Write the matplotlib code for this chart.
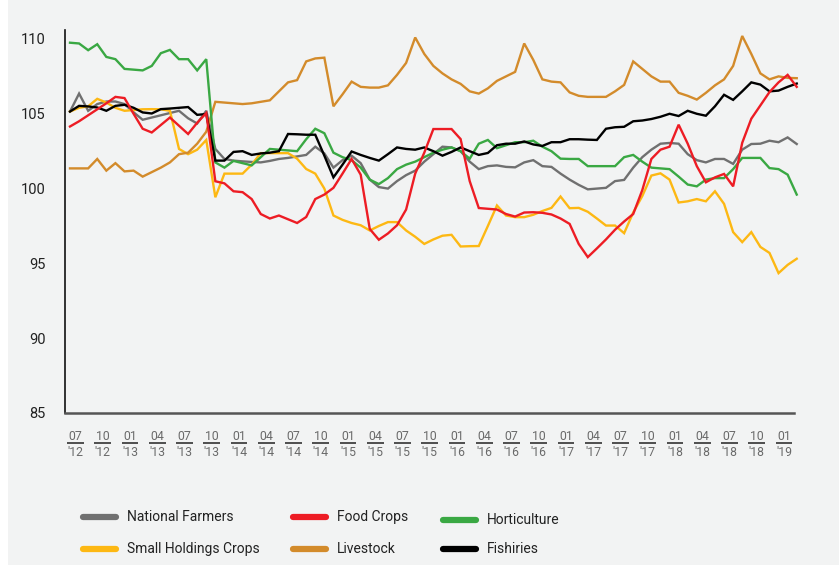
import numpy as np
import matplotlib
matplotlib.use('Agg')
import matplotlib.pyplot as plt
from matplotlib.lines import Line2D
from matplotlib.patches import Rectangle
import matplotlib.transforms as mtransforms

# Monthly index values, 07/2012 .. 03/2019
national_farmers = [105.15, 106.35, 105.2, 105.65, 105.82, 105.82, 105.65, 105.1, 104.6, 104.75,
                    104.9, 105.05, 105.2, 104.7, 104.35, 105.2, 102.65, 101.98, 101.87, 101.82,
                    101.78, 101.75, 101.85, 101.98, 102.05, 102.15, 102.25, 102.8, 102.35, 101.4,
                    101.9, 102.2, 101.7, 100.6, 100.1, 100.0, 100.5, 100.9, 101.2, 101.8,
                    102.3, 102.8, 102.75, 102.5, 101.8, 101.3, 101.5, 101.55, 101.45, 101.42,
                    101.75, 101.9, 101.5, 101.45, 101.0, 100.6, 100.25, 99.95, 100.0, 100.05,
                    100.5, 100.58, 101.4, 102.1, 102.6, 103.0, 103.05, 103.0, 102.3, 101.9,
                    101.75, 101.98, 101.98, 101.65, 102.6, 102.98, 103.0, 103.2, 103.1, 103.42,
                    102.98]
food_crops = [104.15, 104.5, 104.9, 105.3, 105.7, 106.13, 106.05, 105.0, 104.0, 103.75,
              104.25, 104.75, 104.2, 103.65, 104.4, 105.05, 100.49, 100.35, 99.82, 99.76,
              99.3, 98.3, 98.0, 98.2, 97.95, 97.7, 98.1, 99.3, 99.6, 100.05,
              101.0, 101.98, 100.93, 97.3, 96.58, 97.0, 97.55, 98.6, 101.0, 102.4,
              103.98, 103.98, 103.98, 103.31, 100.5, 98.7, 98.65, 98.6, 98.3, 98.13,
              98.4, 98.42, 98.38, 98.27, 98.0, 97.64, 96.3, 95.42, 96.0, 96.6,
              97.25, 97.8, 98.3, 99.9, 101.98, 102.6, 102.8, 104.27, 103.0, 101.5,
              100.42, 100.75, 100.98, 100.15, 103.06, 104.67, 105.56, 106.45, 107.1, 107.6,
              106.8]
horticulture = [109.75, 109.7, 109.25, 109.65, 108.8, 108.65, 108.0, 107.95, 107.9, 108.2,
                109.05, 109.27, 108.65, 108.65, 107.9, 108.65, 101.75, 101.4, 101.85, 101.7,
                101.55, 102.1, 102.65, 102.6, 102.55, 102.5, 103.3, 104.0, 103.7, 102.4,
                102.1, 101.9, 101.4, 100.6, 100.3, 100.7, 101.3, 101.6, 101.8, 102.1,
                102.4, 102.6, 102.75, 102.5, 102.0, 103.0, 103.25, 102.7, 102.9, 103.1,
                103.1, 103.2, 102.8, 102.5, 102.0, 101.98, 101.98, 101.5, 101.5, 101.5,
                101.5, 102.1, 102.25, 101.8, 101.4, 101.35, 101.3, 100.8, 100.27, 100.15,
                100.6, 100.7, 100.7, 101.3, 102.05, 102.05, 102.05, 101.37, 101.3, 100.93,
                99.6]
small_holdings = [105.15, 105.4, 105.5, 106.0, 105.75, 105.4, 105.2, 105.25, 105.3, 105.31,
                  105.3, 105.2, 102.65, 102.3, 102.6, 103.25, 99.42, 101.0, 101.0, 101.0,
                  101.6, 102.37, 102.37, 102.37, 102.37, 102.0, 101.31, 101.0, 100.0, 98.2,
                  97.91, 97.7, 97.55, 97.2, 97.5, 97.76, 97.76, 97.2, 96.78, 96.3,
                  96.6, 96.85, 96.91, 96.13, 96.15, 96.16, 97.5, 98.87, 98.2, 98.09,
                  98.09, 98.25, 98.5, 98.71, 99.47, 98.69, 98.71, 98.45, 98.0, 97.53,
                  97.53, 97.02, 98.4, 99.5, 100.87, 101.02, 100.6, 99.07, 99.15, 99.3,
                  99.15, 99.82, 98.98, 97.09, 96.42, 97.09, 96.1, 95.7, 94.35, 94.9,
                  95.31]
livestock = [101.35, 101.35, 101.35, 101.98, 101.2, 101.7, 101.15, 101.2, 100.8, 101.1,
             101.4, 101.75, 102.3, 102.4, 103.0, 103.8, 105.8, 105.75, 105.7, 105.65,
             105.7, 105.8, 105.9, 106.5, 107.1, 107.25, 108.5, 108.7, 108.75, 105.5,
             106.3, 107.15, 106.8, 106.75, 106.75, 106.9, 107.6, 108.4, 110.1, 109.0,
             108.2, 107.7, 107.3, 107.0, 106.5, 106.35, 106.7, 107.2, 107.5, 107.8,
             109.7, 108.6, 107.3, 107.15, 107.1, 106.43, 106.2, 106.13, 106.13, 106.13,
             106.5, 106.93, 108.5, 108.0, 107.5, 107.15, 107.15, 106.4, 106.2, 105.95,
             106.4, 106.9, 107.3, 108.2, 110.2, 109.0, 107.7, 107.3, 107.5, 107.4,
             107.38]
fishiries = [105.15, 105.53, 105.49, 105.42, 105.2, 105.53, 105.6, 105.4, 105.09, 105.02,
             105.31, 105.35, 105.4, 105.45, 104.93, 104.98, 101.87, 101.87, 102.45, 102.5,
             102.25, 102.35, 102.4, 102.5, 103.65, 103.63, 103.6, 103.6, 102.2, 100.75,
             101.6, 102.48, 102.25, 102.05, 101.87, 102.3, 102.75, 102.65, 102.6, 102.75,
             102.5, 102.2, 102.45, 102.75, 102.5, 102.25, 102.38, 102.9, 103.0, 103.0,
             103.15, 102.95, 102.85, 103.1, 103.1, 103.3, 103.3, 103.27, 103.25, 104.0,
             104.1, 104.13, 104.5, 104.55, 104.65, 104.8, 105.0, 104.85, 105.2, 105.0,
             104.87, 105.5, 106.27, 105.93, 106.5, 107.1, 106.95, 106.5, 106.55, 106.8,
             107.02]

tick_months = ['07', '10', '01', '04'] * 6 + ['07', '10', '01']
tick_years = ["'12", "'12", "'13", "'13", "'13", "'13", "'14", "'14", "'14", "'14",
              "'15", "'15", "'15", "'15", "'16", "'16", "'16", "'16", "'17", "'17",
              "'17", "'17", "'18", "'18", "'18", "'18", "'19"]

labels = ['National Farmers', 'Food Crops', 'Horticulture',
          'Small Holdings Crops', 'Livestock', 'Fishiries']
series = [national_farmers, food_crops, horticulture, small_holdings, livestock, fishiries]
colors = ['#707070', '#ed1c24', '#3aa843', '#fdb813', '#d38b2b', '#000000']
draw_order = [0, 3, 4, 2, 5, 1]

plt.rcParams['font.family'] = ['Roboto', 'DejaVu Sans']

fig = plt.figure(figsize=(8.39, 5.65), dpi=100)
bg = '#f2f3f3'
fig.patch.set_facecolor(bg)
fig.patches.append(Rectangle((0, 0), 8 / 839, 1, transform=fig.transFigure,
                             facecolor='white', edgecolor='none', zorder=0))

ax = fig.add_axes([65 / 839, 1 - 413 / 565, (794 - 65) / 839, (413 - 30) / 565])
ax.set_facecolor(bg)

x = np.arange(len(national_farmers))
for k in draw_order:
    ax.plot(x, series[k], color=colors[k], lw=1.7, clip_on=False, solid_joinstyle='miter')

ax.set_xlim(-0.55, 79.7)
ax.set_ylim(85, 110.6)
ax.set_yticks([85, 90, 95, 100, 105, 110])
ax.tick_params(axis='y', length=0, pad=14, labelsize=10.5, labelcolor='#222222')
ax.set_xticks([])

for s in ['top', 'right']:
    ax.spines[s].set_visible(False)
ax.spines['left'].set_color('#111111')
ax.spines['left'].set_linewidth(1.2)
ax.spines['bottom'].set_color('#555555')
ax.spines['bottom'].set_linewidth(1.8)

# two-line x tick labels with underline
trans = mtransforms.blended_transform_factory(ax.transData, ax.transAxes)
for j, (m, yr) in enumerate(zip(tick_months, tick_years)):
    xp = j * 3 + 0.6
    ax.text(xp, -0.0705, m, transform=trans, ha='center', va='baseline',
            fontsize=8.8, color='#6a6a6a')
    ax.text(xp, -0.112, yr, transform=trans, ha='center', va='baseline',
            fontsize=8.8, color='#6a6a6a')
    ax.plot([xp - 0.92, xp + 0.92], [-0.0796, -0.0796], transform=trans,
            color='#222222', lw=1.1, clip_on=False, solid_capstyle='butt')

# legend drawn by hand, 2 rows x 3 columns
col_x = [83, 293, 443]
row_y = [517, 549]
for k, lab in enumerate(labels):
    r, c = divmod(k, 3)
    x0 = col_x[c]
    y0 = row_y[r] + (3 if k == 2 else 0)
    yf = 1 - y0 / 565
    fig.add_artist(Line2D([x0 / 839, (x0 + 33) / 839], [yf, yf], color=colors[k],
                          lw=4.5, solid_capstyle='round', transform=fig.transFigure))
    fig.text((x0 + 44) / 839, yf, lab, ha='left', va='center', fontsize=10, color='#222222')

fig.savefig('out.png', dpi=100, facecolor=fig.get_facecolor())
